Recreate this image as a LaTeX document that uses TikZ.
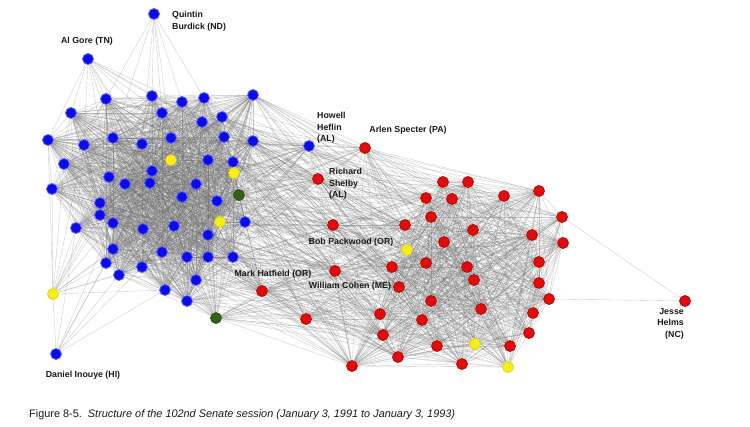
\documentclass[tikz,border=0pt]{standalone}
\usepackage{fontspec}
\setmainfont{Liberation Sans}
\usetikzlibrary{backgrounds}

\definecolor{demblue}{RGB}{12,12,235}
\definecolor{repred}{RGB}{225,12,12}
\definecolor{indyellow}{RGB}{250,238,25}
\definecolor{mixgreen}{RGB}{52,98,22}
\definecolor{tiegray}{RGB}{110,110,110}
\definecolor{labelgray}{RGB}{25,25,25}

\pgfdeclarelayer{ties}
\pgfsetlayers{background,ties,main}

\tikzset{
  senator/.style={circle, minimum size=11pt, inner sep=0pt, line width=0.8pt},
  dem/.style={senator, fill=demblue, draw=demblue!65!white},
  rep/.style={senator, fill=repred, draw=repred!80!black},
  ind/.style={senator, fill=indyellow, draw=indyellow!90!black},
  mix/.style={senator, fill=mixgreen, draw=mixgreen!85!black},
  tie/.style={draw=tiegray, line width=0.32pt, opacity=0.38},
  who/.style={font=\fontsize{8.8}{11.5}\selectfont\bfseries, text=labelgray, inner sep=0pt}
}

\begin{document}
\begin{tikzpicture}[x=1pt, y=-1pt]
    \useasboundingbox (0,0) rectangle (750,426);
    \begin{pgfonlayer}{background}
        \fill[white] (0,0) rectangle (750,426);
    \end{pgfonlayer}

    % Democratic bloc
    \foreach \x/\y/\s [count=\i] in {
        106/99/dem, 152/96/dem, 182/102/dem, 204/98/dem, 253/95/dem,
        71/113/dem, 162/113/dem, 202/122/dem, 222/117/dem, 48/140/dem,
        84/145/dem, 113/138/dem, 142/144/dem, 171/138/dem, 224/137/dem,
        253/141/dem, 171/160/ind, 208/160/dem, 233/162/dem, 234/173/ind,
        64/164/dem, 152/171/dem, 109/177/dem, 125/184/dem, 150/183/dem,
        196/184/dem, 52/189/dem, 239/195/mix, 182/197/dem, 217/201/dem,
        100/203/dem, 100/215/dem, 113/223/dem, 76/228/dem, 143/229/dem,
        174/226/dem, 220/222/ind, 245/222/dem, 208/235/dem, 113/249/dem,
        106/263/dem, 162/252/dem, 187/257/dem, 208/257/dem, 233/257/dem,
        119/275/dem, 142/267/dem, 196/280/dem, 165/290/dem, 187/301/dem}
        \node[\s] (b\i) at (\x,\y) {};

    % Republican bloc
    \foreach \x/\y/\s [count=\i] in {
        443/182/rep, 468/182/rep, 426/198/rep, 452/199/rep, 504/196/rep,
        539/191/rep, 431/217/rep, 405/225/rep, 473/230/rep, 532/235/rep,
        562/217/rep, 563/243/rep, 444/242/rep, 407/250/ind, 392/267/rep,
        426/263/rep, 467/267/rep, 474/280/rep, 539/262/rep, 399/287/rep,
        539/283/rep, 549/299/rep, 431/301/rep, 481/309/rep, 380/314/rep,
        422/320/rep, 533/313/rep, 383/335/rep, 529/333/rep, 437/346/rep,
        475/344/ind, 510/346/rep, 398/357/rep, 462/364/rep, 508/367/ind,
        352/366/rep}
        \node[\s] (r\i) at (\x,\y) {};

    % Senators between the blocs and on the fringes
    \node[dem] (heflin) at (309,146) {};
    \node[rep] (specter) at (365,148) {};
    \node[rep] (shelby) at (318,179) {};
    \node[rep] (packwood) at (333,225) {};
    \node[rep] (cohen) at (335,271) {};
    \node[rep] (hatfield) at (262,291) {};
    \node[mix] (gswing) at (216,318) {};
    \node[rep] (rswing) at (306,319) {};
    \node[dem] (burdick) at (154,14) {};
    \node[dem] (gore) at (88,59) {};
    \node[dem] (inouye) at (56,354) {};
    \node[ind] (yfringe) at (53,294) {};
    \node[rep] (helms) at (685,301) {};

    \begin{pgfonlayer}{ties}
        % ties inside the Democratic bloc
        \foreach \i in {1,...,49}{
            \pgfmathtruncatemacro\nxt{\i+1}
            \foreach \j in {\nxt,...,50}
                \draw[tie] (b\i) -- (b\j);
        }
        % ties inside the Republican bloc
        \foreach \i in {1,...,35}{
            \pgfmathtruncatemacro\nxt{\i+1}
            \foreach \j in {\nxt,...,36}{
                \pgfmathtruncatemacro\keep{mod(\i*7+\j*3,10)}
                \ifnum\keep<9 \draw[tie] (r\i) -- (r\j); \fi
            }
        }
        % swing senators reach into both blocs
        \foreach \v/\bstep/\rstep in {heflin/2/3, specter/4/2, shelby/2/2,
                packwood/3/2, cohen/3/2, hatfield/2/2, gswing/2/2, rswing/4/2}{
            \foreach \i in {1,...,50}{
                \pgfmathtruncatemacro\keep{mod(\i,\bstep)}
                \ifnum\keep=0 \draw[tie] (\v) -- (b\i); \fi
            }
            \foreach \j in {1,...,36}{
                \pgfmathtruncatemacro\keep{mod(\j,\rstep)}
                \ifnum\keep=0 \draw[tie] (\v) -- (r\j); \fi
            }
        }
        \foreach \u/\v in {heflin/shelby, heflin/specter, shelby/specter,
                shelby/packwood, packwood/specter, packwood/cohen, cohen/hatfield,
                hatfield/gswing, rswing/cohen, rswing/hatfield}
            \draw[tie] (\u) -- (\v);
        % direct ties across the aisle
        \foreach \k in {5,9,16,19,30,38,45,50}
            \foreach \j in {1,...,36}{
                \pgfmathtruncatemacro\keep{mod(\j+\k,3)}
                \ifnum\keep=0 \draw[tie] (b\k) -- (r\j); \fi
            }
        \foreach \k in {3,8,15,20,25,28,33,36}
            \foreach \i in {1,...,50}{
                \pgfmathtruncatemacro\keep{mod(\i+\k,4)}
                \ifnum\keep=0 \draw[tie] (r\k) -- (b\i); \fi
            }
        % fringe senators
        \foreach \j in {1,2,3,4,7,12,13,14}
            \draw[tie] (burdick) -- (b\j);
        \foreach \j in {1,2,3,6,7,8,10,11,12,13,14,22,23}
            \draw[tie] (gore) -- (b\j);
        \foreach \j in {33,34,40,41,46,47,49}
            \draw[tie] (inouye) -- (b\j);
        \draw[tie] (inouye) -- (yfringe);
        \foreach \j in {10,11,21,23,24,27,31,32,33,34,35,40,41,46,47,49}
            \draw[tie] (yfringe) -- (b\j);
        \draw[tie] (helms) -- (r11);
        \draw[tie] (helms) -- (r22);
    \end{pgfonlayer}

    % Labels
    \node[who, anchor=north west, align=left] (lburdick) at (172,11) {Quintin\\Burdick (ND)};
    \node[who] (lgore) at (87,41) {Al Gore (TN)};
    \node[who, anchor=north west, align=left] (lheflin) at (317,112) {Howell\\Heflin\\(AL)};
    \node[who] (lspecter) at (408,130) {Arlen Specter (PA)};
    \node[who, anchor=north west, align=left] (lshelby) at (329,168) {Richard\\Shelby\\(AL)};
    \node[who] (lpackwood) at (351,242) {Bob Packwood (OR)};
    \node[who] (lhatfield) at (273,274) {Mark Hatfield (OR)};
    \node[who] (lcohen) at (350,286) {William Cohen (ME)};
    \node[who] (linouye) at (83,375) {Daniel Inouye (HI)};
    \node[who, anchor=north east, align=right] (lhelms) at (684,308) {Jesse\\Helms\\(NC)};

    % Caption
    \node[anchor=base west, inner sep=0pt, text=labelgray,
          font=\fontsize{10.9}{13}\selectfont] (caption) at (29,417)
        {Figure 8-5.\ \ \textit{Structure of the 102nd Senate session (January 3, 1991 to January 3, 1993)}};
\end{tikzpicture}
\end{document}
